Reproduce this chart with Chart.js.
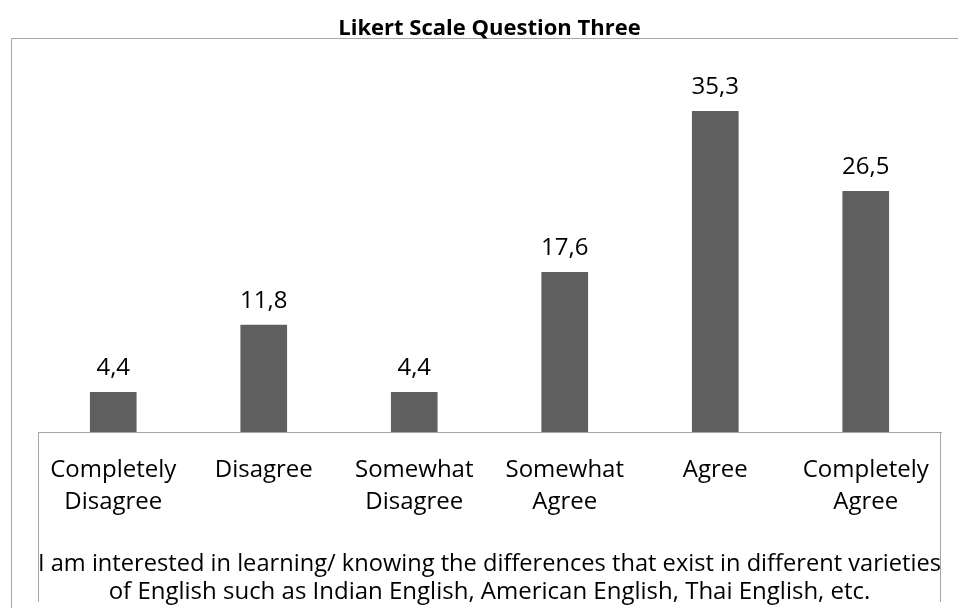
<!DOCTYPE html>
<html>
<head>
<meta charset="utf-8">
<script src="https://cdn.jsdelivr.net/npm/chart.js@4.4.1/dist/chart.umd.min.js"></script>
<style>
  html, body { margin: 0; padding: 0; background: #fff; }
  #wrap { width: 958px; height: 608px; }
</style>
</head>
<body>
<div id="wrap"><canvas id="likertChart" width="958" height="608"></canvas></div>
<script>
// chart data
const categories = [
  ["Completely", "Disagree"],
  "Disagree",
  ["Somewhat", "Disagree"],
  ["Somewhat", "Agree"],
  "Agree",
  ["Completely", "Agree"]
];
const percentages = [4.4, 11.8, 4.4, 17.6, 35.3, 26.5];
const chartTitle = "Likert Scale Question Three";
const axisTitle = [
  "I am interested in learning/ knowing the differences that exist in different varieties",
  "of English such as Indian English, American English, Thai English, etc."
];

const fontName = "'Open Sans', 'Noto Sans', sans-serif";
const lineColor = "#a6a6a6";

// frame lines like the excel chart border + box round the category axis
const framePlugin = {
  id: "frame",
  beforeDraw(chart) {
    const ctx = chart.ctx;
    const area = chart.chartArea;
    ctx.save();
    ctx.strokeStyle = lineColor;
    ctx.lineWidth = 1;
    ctx.beginPath();
    // outer border (top + left)
    ctx.moveTo(11.5, chart.height);
    ctx.lineTo(11.5, 38.5);
    ctx.lineTo(chart.width, 38.5);
    // axis box sides
    ctx.moveTo(Math.round(area.left) + 0.5, area.bottom);
    ctx.lineTo(Math.round(area.left) + 0.5, chart.height - 6);
    ctx.moveTo(Math.round(area.right) - 0.5, area.bottom);
    ctx.lineTo(Math.round(area.right) - 0.5, chart.height - 6);
    ctx.stroke();
    ctx.restore();
  }
};

// value labels above the bars, with decimal comma
const valueLabels = {
  id: "valueLabels",
  afterDatasetsDraw(chart) {
    const ctx = chart.ctx;
    const meta = chart.getDatasetMeta(0);
    ctx.save();
    ctx.font = "24px " + fontName;
    ctx.fillStyle = "#000";
    ctx.textAlign = "center";
    ctx.textBaseline = "middle";
    meta.data.forEach((bar, i) => {
      const txt = percentages[i].toFixed(1).replace(".", ",");
      ctx.fillText(txt, bar.x, bar.y - 24);
    });
    ctx.restore();
  }
};

new Chart(document.getElementById("likertChart").getContext("2d"), {
  type: "bar",
  data: {
    labels: categories,
    datasets: [
      {
        label: "Percentage",
        data: percentages,
        backgroundColor: "#5f5f5f",
        borderWidth: 0,
        categoryPercentage: 1,
        barPercentage: 0.31
      }
    ]
  },
  options: {
    responsive: false,
    animation: false,
    layout: {
      padding: { left: 38, right: 17, top: 0, bottom: 0 }
    },
    plugins: {
      legend: { display: false },
      tooltip: { enabled: false },
      title: {
        display: true,
        text: chartTitle,
        color: "#000",
        font: { family: fontName, size: 22, weight: "bold" },
        padding: { top: 16, bottom: 26 }
      }
    },
    scales: {
      x: {
        grid: { display: false, drawTicks: false },
        border: { display: true, color: lineColor, width: 1 },
        ticks: {
          color: "#000",
          padding: 22,
          maxRotation: 0,
          autoSkip: false,
          font: { family: fontName, size: 24, lineHeight: 1.33 }
        },
        title: {
          display: true,
          text: axisTitle,
          color: "#000",
          font: { family: fontName, size: 24, lineHeight: 1.17 },
          padding: { top: 10, bottom: 2 }
        }
      },
      y: {
        display: false,
        min: 0,
        max: 40
      }
    }
  },
  plugins: [framePlugin, valueLabels]
});
</script>
</body>
</html>
